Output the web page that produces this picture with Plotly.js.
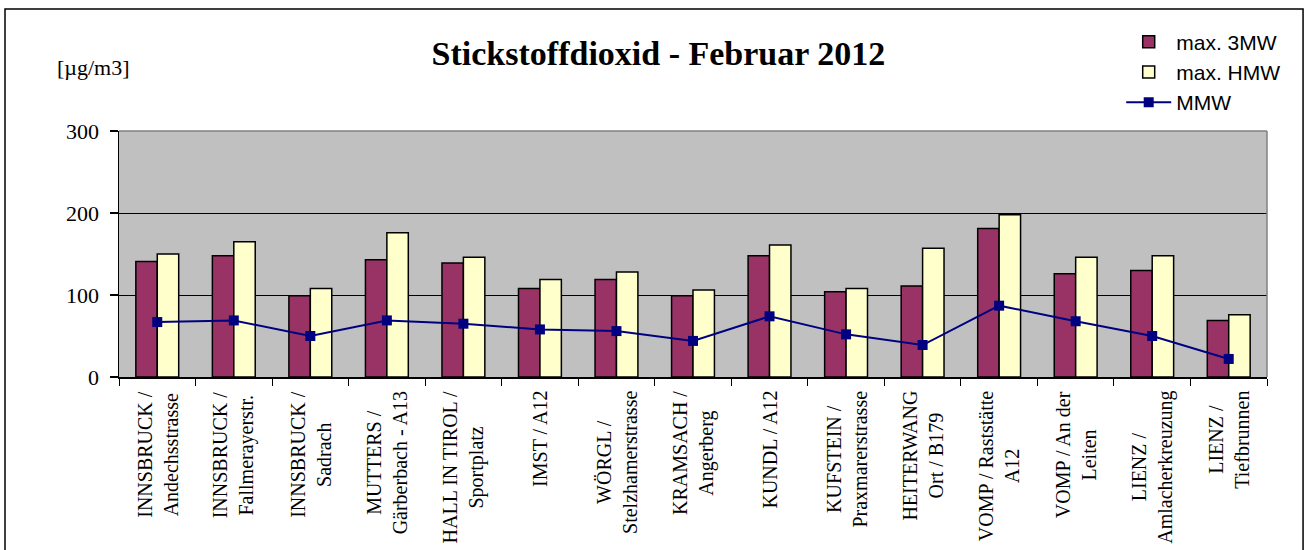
<!DOCTYPE html>
<html>
<head>
<meta charset="utf-8">
<script src="https://cdn.plot.ly/plotly-3.0.1.min.js"></script>
<style>
  body { margin: 0; padding: 0; background: #fff; }
  #chart { width: 1309px; height: 550px; }
</style>
</head>
<body>
<div id="chart"></div>
<script>
// Messstellen (x axis categories, line breaks as in the original)
let stations = [
	"INNSBRUCK /<br>Andechsstrasse",
	"INNSBRUCK /<br>Fallmerayerstr.",
	"INNSBRUCK /<br>Sadrach",
	"MUTTERS /<br>Gärberbach - A13",
	"HALL IN TIROL /<br>Sportplatz",
	"IMST / A12",
	"WÖRGL /<br>Stelzhamerstrasse",
	"KRAMSACH /<br>Angerberg",
	"KUNDL / A12",
	"KUFSTEIN /<br>Praxmarerstrasse",
	"HEITERWANG<br>Ort / B179",
	"VOMP / Raststätte<br>A12",
	"VOMP / An der<br>Leiten",
	"LIENZ /<br>Amlacherkreuzung",
	"LIENZ /<br>Tiefbrunnen"
];

// values in µg/m3
let max_3mw = [141, 148, 99, 143, 139, 108, 119, 99, 148, 104, 111, 181, 126, 130, 69];
let max_hmw = [150, 165, 108, 176, 146, 119, 128, 106, 161, 108, 157, 198, 146, 148, 76];
let mmw     = [67, 69, 50, 69, 65, 58, 56, 44, 74, 52, 39, 87, 68, 50, 22];

let y_ticks = [0, 100, 200, 300];

let serif = "Liberation Serif";
let sans = "Liberation Sans";

let traces = [
	{
		type: 'bar',
		name: 'max. 3MW',
		x: stations,
		y: max_3mw,
		marker: { color: '#993366', line: { color: '#000000', width: 1.5 } }
	},
	{
		type: 'bar',
		name: 'max. HMW',
		x: stations,
		y: max_hmw,
		marker: { color: '#FFFFCC', line: { color: '#000000', width: 1.5 } }
	},
	{
		type: 'scatter',
		name: 'MMW',
		x: stations,
		y: mmw,
		mode: 'lines+markers',
		line: { color: '#000080', width: 2 },
		marker: { symbol: 'square', color: '#000080', size: 10 }
	}
];

// category labels, rotated, centred lines (like the original)
let label_annotations = [];
for (let i = 0; i < stations.length; i++)
{
	label_annotations.push({
		x: stations[i],
		y: 0,
		xref: 'x',
		yref: 'y',
		text: stations[i],
		textangle: -90,
		showarrow: false,
		xanchor: 'center',
		yanchor: 'top',
		yshift: -12,
		align: 'center',
		font: { family: serif, size: 20, color: '#000' }
	});
}

label_annotations.push({
	x: -0.056,
	y: 1.26,
	xref: 'paper',
	yref: 'paper',
	xanchor: 'left',
	yanchor: 'middle',
	showarrow: false,
	text: '[µg/m3]',
	font: { family: serif, size: 22, color: '#000' }
});

let layout = {
	width: 1309,
	height: 550,
	margin: { l: 119, r: 42, t: 131, b: 173, pad: 0 },
	paper_bgcolor: '#ffffff',
	plot_bgcolor: '#C0C0C0',
	font: { family: serif, color: '#000' },
	title: {
		text: '<b>Stickstoffdioxid - Februar 2012</b>',
		font: { family: serif, size: 34, color: '#000' },
		x: 0.503,
		xanchor: 'center',
		y: 0.904,
		yanchor: 'middle'
	},
	barmode: 'group',
	bargap: 0.44,
	bargroupgap: 0,
	showlegend: true,
	legend: {
		x: 0.873,
		y: 1.445,
		xanchor: 'left',
		yanchor: 'top',
		bgcolor: 'rgba(0,0,0,0)',
		font: { family: sans, size: 21, color: '#000' },
		itemwidth: 45,
		tracegroupgap: 0
	},
	xaxis: {
		type: 'category',
		range: [-0.5, 14.5],
		showticklabels: false,
		showline: true,
		linecolor: '#000',
		linewidth: 1.5,
		ticks: 'outside',
		tickson: 'boundaries',
		ticklen: 7,
		tickcolor: '#000',
		tickwidth: 1,
		showgrid: false,
		zeroline: false
	},
	yaxis: {
		range: [0, 300],
		tickmode: 'array',
		tickvals: y_ticks,
		ticktext: y_ticks.map(String),
		ticks: 'outside',
		ticklen: 8,
		tickcolor: '#000',
		tickwidth: 1.5,
		ticklabelstandoff: 6,
		tickfont: { family: serif, size: 22, color: '#000' },
		showline: true,
		linecolor: '#000',
		linewidth: 1.5,
		showgrid: true,
		gridcolor: '#000',
		gridwidth: 1,
		zeroline: false
	},
	annotations: label_annotations,
	shapes: [
		// grey border of the plot area (top and right)
		{ type: 'line', xref: 'paper', yref: 'paper', x0: 0, x1: 1, y0: 1, y1: 1, line: { color: '#808080', width: 1.5 }, layer: 'above' },
		{ type: 'line', xref: 'paper', yref: 'paper', x0: 1, x1: 1, y0: 0, y1: 1, line: { color: '#808080', width: 1.5 }, layer: 'above' },
		// outer chart frame
		{ type: 'rect', xref: 'paper', yref: 'paper', x0: -0.0993, x1: 1.0314, y0: -0.75, y1: 1.496, line: { color: '#000', width: 1.5 }, fillcolor: 'rgba(0,0,0,0)' }
	]
};

Plotly.newPlot('chart', traces, layout, { displayModeBar: false, staticPlot: true });
</script>
</body>
</html>
